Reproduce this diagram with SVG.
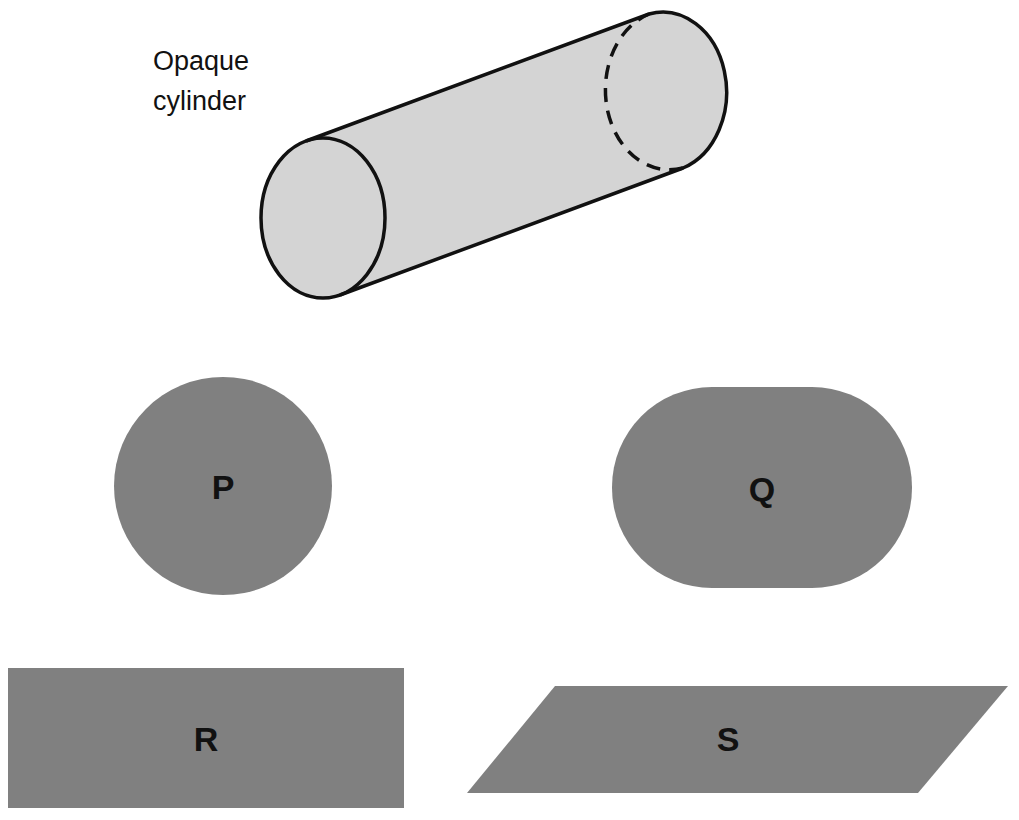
<svg xmlns="http://www.w3.org/2000/svg" width="1019" height="820" viewBox="0 0 1019 820">
<style>
.sh{fill:#808080}
.lb{font-family:"Liberation Sans",Arial,sans-serif;font-weight:bold;font-size:34px;fill:#111;text-anchor:middle}
.ln{fill:none;stroke:#111;stroke-width:3.5}
</style>
<rect width="1019" height="820" fill="#fff"/>
<g id="cylinder">
<path d="M306 141 L649 14 A64 80 0 0 1 683 168 L340 295 Z" fill="#d4d4d4"/>
<ellipse cx="323" cy="218" rx="62" ry="80" style="fill:#d4d4d4;stroke:#111;stroke-width:3.5"/>
<path class="ln" d="M306 141 L649 14 A64 80 0 0 1 683 168 L340 295"/>
<path class="ln" stroke-dasharray="14 9" d="M683 168 A64 80 0 0 1 649 14"/>
<text x="153" y="70" font-family="'Liberation Sans',Arial,sans-serif" font-size="27" fill="#111">Opaque</text>
<text x="153" y="110" font-family="'Liberation Sans',Arial,sans-serif" font-size="27" fill="#111">cylinder</text>
</g>
<g id="P"><circle class="sh" cx="223" cy="486" r="109"/><text class="lb" x="223" y="499">P</text></g>
<g id="Q"><rect class="sh" x="612" y="387" width="300" height="201" rx="100"/><text class="lb" x="762" y="501">Q</text></g>
<g id="R"><rect class="sh" x="8" y="668" width="396" height="140"/><text class="lb" x="206" y="751">R</text></g>
<g id="S"><polygon class="sh" points="555,686 1008,686 918,793 467,793"/><text class="lb" x="728" y="751">S</text></g>
<g id="connectors"/>
</svg>
